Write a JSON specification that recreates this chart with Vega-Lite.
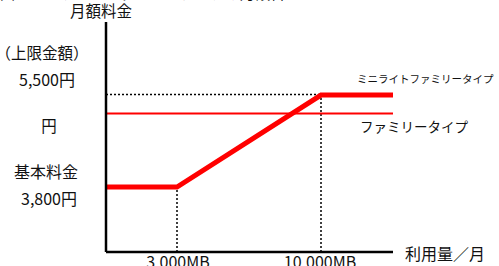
{
  "$schema": "https://vega.github.io/schema/vega-lite/v6.json",
  "width": 499,
  "height": 266,
  "padding": 0,
  "autosize": {"type": "none"},
  "background": "white",
  "config": {"view": {"stroke": null}},
  "datasets": {
    "axes": [
      {"x": 0, "x2": 0, "y": 2600, "y2": 6850},
      {"x": 0, "x2": 13000, "y": 2600, "y2": 2600}
    ],
    "dotted": [
      {"x": 3000, "x2": 3000, "y": 2600, "y2": 3800},
      {"x": 10000, "x2": 10000, "y": 2600, "y2": 5500},
      {"x": 0, "x2": 10000, "y": 5510, "y2": 5510}
    ],
    "family": [
      {"x": 0, "x2": 13000, "y": 5159, "y2": 5159}
    ],
    "minilight": [
      {"x": 0, "y": 3800, "o": 0},
      {"x": 3000, "y": 3800, "o": 1},
      {"x": 10000, "y": 5500, "o": 2},
      {"x": 13000, "y": 5500, "o": 3}
    ],
    "labelsCenter": [
      {"x": -211, "y": 7035, "t": "月額料金", "s": 15.5},
      {"x": -2704, "y": 6259, "t": "（上限金額）", "s": 15.5},
      {"x": -2493, "y": 5760, "t": "5,500円", "s": 16},
      {"x": -2408, "y": 4910, "t": "円", "s": 15.5},
      {"x": -2535, "y": 4060, "t": "基本料金", "s": 16},
      {"x": -2408, "y": 3561, "t": "3,800円", "s": 16},
      {"x": 3049, "y": 2397, "t": "3,000MB", "s": 16},
      {"x": 9951, "y": 2397, "t": "10,000MB", "s": 16}
    ],
    "labelsLeft": [
      {"x": 11500, "y": 5770, "t": "ミニライトファミリータイプ", "s": 10.5},
      {"x": 11625, "y": 4891, "t": "ファミリータイプ", "s": 13.5},
      {"x": 13500, "y": 2545, "t": "利用量／月", "s": 16},
      {"x": -4479, "y": 7375, "t": "図　ミニライトファミリータイプの月額料金イメージ", "s": 15}
    ]
  },
  "encoding": {
    "x": {"field": "x", "type": "quantitative", "axis": null,
          "scale": {"domain": [0, 3000, 10000, 13000], "range": [106, 177, 321, 393], "nice": false, "zero": false}},
    "y": {"field": "y", "type": "quantitative", "axis": null,
          "scale": {"domain": [2600, 6850], "range": [252, 22], "nice": false, "zero": false}}
  },
  "layer": [
    {
      "data": {"name": "dotted"},
      "mark": {"type": "rule", "color": "black", "strokeWidth": 1.5, "strokeDash": [2, 2]},
      "encoding": {"x2": {"field": "x2"}, "y2": {"field": "y2"}}
    },
    {
      "data": {"name": "family"},
      "mark": {"type": "rule", "color": "#ff0000", "strokeWidth": 2},
      "encoding": {"x2": {"field": "x2"}, "y2": {"field": "y2"}}
    },
    {
      "data": {"name": "minilight"},
      "mark": {"type": "line", "color": "#ff0000", "strokeWidth": 5, "strokeCap": "butt", "strokeJoin": "miter"},
      "encoding": {"order": {"field": "o", "type": "quantitative"}}
    },
    {
      "data": {"name": "axes"},
      "mark": {"type": "rule", "color": "black", "strokeWidth": 2.5},
      "encoding": {"x2": {"field": "x2"}, "y2": {"field": "y2"}}
    },
    {
      "data": {"name": "labelsCenter"},
      "mark": {"type": "text", "align": "center", "baseline": "middle", "font": "Noto Sans CJK JP", "color": "#111"},
      "encoding": {"text": {"field": "t"}, "size": {"field": "s", "type": "quantitative", "scale": null}}
    },
    {
      "data": {"name": "labelsLeft"},
      "mark": {"type": "text", "align": "left", "baseline": "middle", "font": "Noto Sans CJK JP", "color": "#111"},
      "encoding": {"text": {"field": "t"}, "size": {"field": "s", "type": "quantitative", "scale": null}}
    }
  ]
}
